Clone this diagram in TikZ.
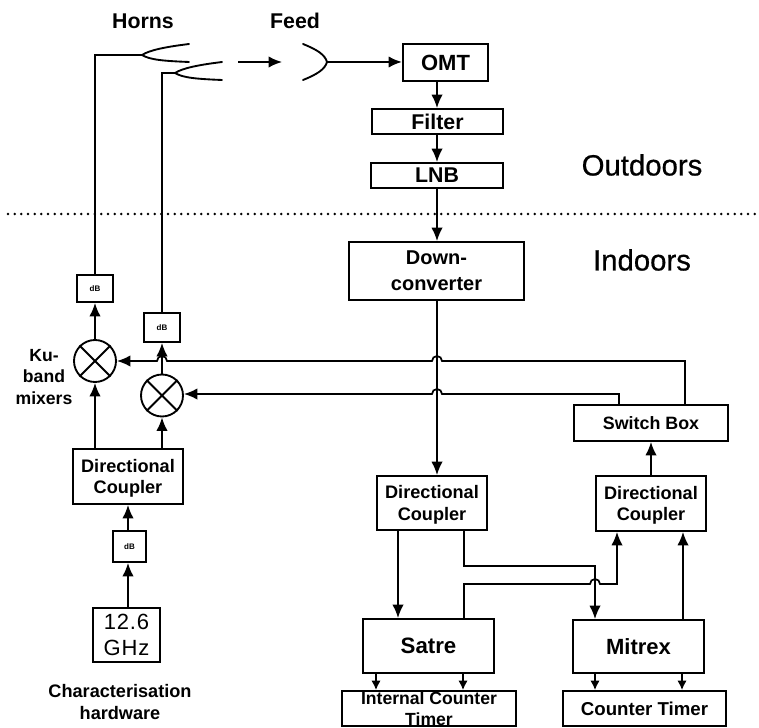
\documentclass[tikz,border=0pt]{standalone}
\usepackage{fontspec}
\setmainfont{Liberation Sans}
\newfontfamily\spacedfont[LetterSpace=4]{Liberation Sans}
\newfontfamily\heavyfont[FakeBold=0.6]{Liberation Sans}
\usetikzlibrary{arrows.meta}
\tikzset{
  sz/.style 2 args={minimum width=#1*0.75pt,minimum height=#2*0.75pt},
  box/.style={draw,line width=1.4pt,inner sep=0pt,align=center,font=\bfseries},
  dbbox/.style={box,font=\bfseries\fontsize{6}{7}\selectfont},
  mixer/.style={draw,circle,line width=1.4pt,minimum size=31.5pt,inner sep=0pt},
  conn/.style={line width=1.3pt},
  arr/.style={conn,-{Latex[length=10pt,width=8.5pt]}},
  sarr/.style={conn,-{Latex[length=7pt,width=7pt]}},
  lab/.style={inner sep=0pt,align=center},
  horn/.style={line width=1.4pt,line cap=round},
}
\newcommand{\fs}[2]{\fontsize{#1}{#2}\selectfont}
\newcommand{\ns}{\rule{0pt}{12.8pt}}
\begin{document}
\begin{tikzpicture}[x=0.75pt,y=-0.75pt]
\useasboundingbox (0,0) rectangle (759,727);
\clip (0,0) rectangle (759,727);
% column and row positions
\coordinate (cB) at (437,0);
\coordinate (cS) at (685,361);
\coordinate (cT) at (619,394);
\coordinate (cC) at (128,0);
% boxes
\node[box,sz={85}{37},font=\bfseries\fs{16.5}{19}] (omt) at (445.5,62.5) {OMT};
\node[box,sz={131}{25},font=\bfseries\fs{16}{19}] (filter) at (437.5,121.5) {Filter};
\node[box,sz={132}{25},font=\bfseries\fs{16}{19}] (lnb) at (437,175.5) {LNB};
\node[box,sz={175}{58},font=\bfseries\fs{15}{19.5}] (down) at (436.5,271) {Down-\\converter};
\node[box,sz={154}{36},font=\bfseries\fs{13.4}{16}] (sw) at (651,423) {Switch Box};
\node[box,sz={110}{54},font=\bfseries\fs{13.6}{16}] (dcm) at (432,503) {\ns Directional\\Coupler};
\node[box,sz={110}{55},font=\bfseries\fs{13.6}{16}] (dcr) at (651,503.5) {\ns Directional\\Coupler};
\node[box,sz={110}{55},font=\bfseries\fs{13.6}{16}] (dcl) at (128,476.5) {\ns Directional\\Coupler};
\node[box,sz={131}{54},font=\bfseries\fs{16.7}{19}] (satre) at (428.5,646) {Satre};
\node[box,sz={131}{53},font=\bfseries\fs{16.5}{19}] (mitrex) at (638.5,646.5) {Mitrex};
\node[box,sz={174}{35},font=\bfseries\fs{13.2}{15.5}] (ict) at (429,708.5) {Internal Counter\\Timer};
\node[box,sz={163}{35},font=\bfseries\fs{14}{16}] (ct) at (644.5,708.5) {Counter Timer};
\node[dbbox,sz={36}{27}] (dba) at (95,288.5) {dB};
\node[dbbox,sz={36}{29}] (dbb) at (162,327.5) {dB};
\node[dbbox,sz={33}{31}] (dbc) at (129.5,546.5) {dB};
\node[box,sz={67}{54},font=\spacedfont\fs{16.5}{19}] (ghz) at (126.5,635) {12.6\\GHz};
% mixers
\node[mixer] (ma) at (95,361) {};
\node[mixer] (mb) at (162,395.5) {};
\draw[line width=1.4pt] (ma.45) -- (ma.225) (ma.135) -- (ma.315);
\draw[line width=1.4pt] (mb.45) -- (mb.225) (mb.135) -- (mb.315);
% labels
\node[lab,font=\bfseries\fs{16}{19}] (lhorns) at (143,21) {Horns};
\node[lab,font=\bfseries\fs{16}{19}] (lfeed) at (295,21) {Feed};
\node[lab,font=\heavyfont\fs{22}{26}] (lout) at (642,165) {Outdoors};
\node[lab,font=\heavyfont\fs{22}{26}] (lin) at (642,260) {Indoors};
\node[lab,font=\bfseries\fs{13.2}{16.3}] (lku) at (44,377) {Ku-\\band\\mixers};
\node[lab,font=\bfseries\fs{13.6}{16}] (lchar) at (120,702) {Characterisation\\hardware};
% outdoor / indoor divider
\coordinate (da) at (8,214);
\coordinate (db) at (759,214);
\draw[line width=2.1pt,line cap=round,dash pattern=on 0pt off 5pt] (da) -- (db);
% horns
\coordinate (ha) at (142,55);
\coordinate (hb) at (175,73);
\coordinate (fd) at (327,62);
\coordinate (ra) at (238,62);
\coordinate (rb) at (282,62);
\draw[horn] (189,44) .. controls (165,47) and (150,50) .. (ha) .. controls (150,60) and (165,61) .. (189,62);
\draw[horn] (222,62) .. controls (198,65) and (183,68) .. (hb) .. controls (183,78) and (198,79) .. (222,80);
\draw[horn] (303,44) .. controls (318,50) and (325,55) .. (fd) .. controls (325,69) and (318,74) .. (303,80);
\draw[conn] (ha) -- (95,55) -- (dba.north);
\draw[conn] (hb) -- (162,73) -- (dbb.north);
\draw[arr] (ra) -- (rb);
\draw[arr,line width=1.7pt] (fd) -- (omt.west |- fd);
% receive chain
\draw[arr] (omt.south -| cB) -- (filter.north -| cB);
\draw[arr] (filter.south -| cB) -- (lnb.north -| cB);
\draw[arr] (lnb.south -| cB) -- (down.north -| cB);
\draw[arr] (down.south -| cB) -- (dcm.north -| cB);
% switch box to mixers, with hops
\draw[arr] (sw.north -| cS) -- (cS) -- (442,361) arc[start angle=0,end angle=-180,radius=5] -- (167,361) arc[start angle=0,end angle=-180,radius=5] -- (ma.east);
\draw[arr] (sw.north -| cT) -- (cT) -- (442,394) arc[start angle=0,end angle=-180,radius=5] -- (mb.east |- cT);
% left chain
\draw[arr] (ma.north) -- (dba.south);
\draw[arr] (mb.north) -- (dbb.south);
\draw[arr] (dcl.north -| ma) -- (ma.south);
\draw[arr] (dcl.north -| mb) -- (mb.south);
\draw[arr] (dbc.north -| cC) -- (dcl.south -| cC);
\draw[arr] (ghz.north -| cC) -- (dbc.south -| cC);
% lower right
\draw[arr] (dcm.south -| 398,0) -- (satre.north -| 398,0);
\draw[arr] (dcm.south -| 464,0) -- (464,566) -- (595,566) -- (mitrex.north -| 595,0);
\draw[arr] (satre.north -| 464,0) -- (464,584) -- (590,584) arc[start angle=180,end angle=360,radius=5] -- (617,584) -- (dcr.south -| 617,0);
\draw[arr] (mitrex.north -| 683,0) -- (dcr.south -| 683,0);
\draw[arr] (dcr.north -| sw) -- (sw.south);
\draw[sarr] (satre.south -| 376,0) -- (ict.north -| 376,0);
\draw[sarr] (satre.south -| 463,0) -- (ict.north -| 463,0);
\draw[sarr] (mitrex.south -| 595,0) -- (ct.north -| 595,0);
\draw[sarr] (mitrex.south -| 682,0) -- (ct.north -| 682,0);
\end{tikzpicture}
\end{document}
